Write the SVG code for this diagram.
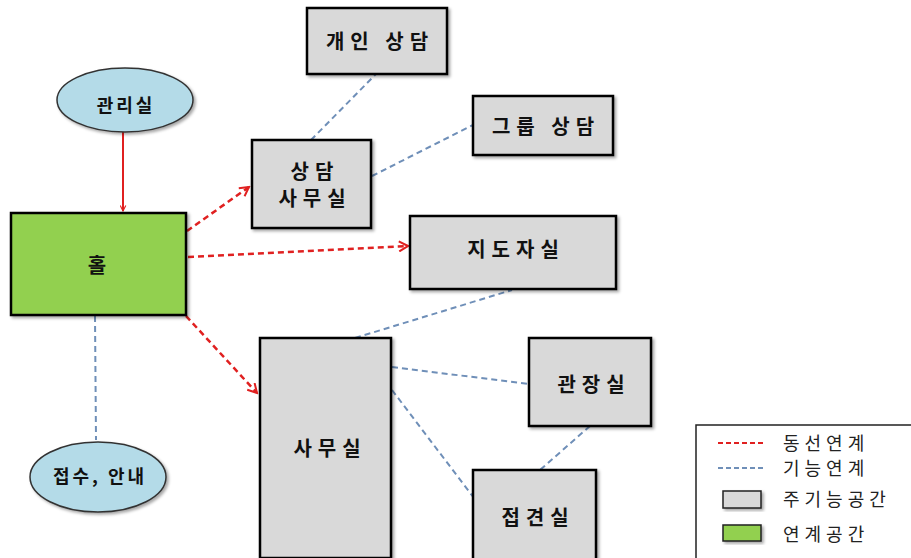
<svg xmlns="http://www.w3.org/2000/svg" width="911" height="558" viewBox="0 0 911 558">
<defs>
<filter id="sh" x="-10%" y="-10%" width="130%" height="130%"><feDropShadow dx="2" dy="2" stdDeviation="1.5" flood-color="#000" flood-opacity="0.35"/></filter>
<marker id="ar" viewBox="0 0 10 10" refX="9" refY="5" markerWidth="7" markerHeight="7" orient="auto" markerUnits="userSpaceOnUse"><path d="M1,1 L9,5 L1,9" fill="none" stroke="#e02020" stroke-width="1.6"/></marker>
<marker id="ar2" viewBox="0 0 12 12" refX="10" refY="6" markerWidth="12" markerHeight="12" orient="auto" markerUnits="userSpaceOnUse"><path d="M1,1 L10,6 L1,11" fill="none" stroke="#e02020" stroke-width="2"/></marker>
</defs>
<style>
.box{fill:#d9d9d9;stroke:#000;stroke-width:2.5;filter:url(#sh)}
.hall{fill:#92d050;stroke:#000;stroke-width:2.5;filter:url(#sh)}
.ell{fill:#b4dbe8;stroke:#333;stroke-width:1.5;filter:url(#sh)}
.t{font-family:"Noto Sans CJK KR","Noto Sans",sans-serif;font-weight:bold;font-size:20px;fill:#111;text-anchor:middle;letter-spacing:6px}
.lt{font-family:"Noto Sans CJK KR","Noto Sans",sans-serif;font-size:18px;fill:#222;letter-spacing:5px}
.red{stroke:#e02020;stroke-width:2.5;stroke-dasharray:6 4;fill:none}
.redsolid{stroke:#e02020;stroke-width:2;fill:none}
.blue{stroke:#6f8fb8;stroke-width:2;stroke-dasharray:6 4;fill:none}
</style>
<rect width="911" height="558" fill="#fff"/>
<g id="connectors">
<line class="redsolid" x1="123" y1="132" x2="123" y2="211" marker-end="url(#ar)"/>
<line class="red" x1="187" y1="231" x2="249" y2="187" marker-end="url(#ar2)"/>
<line class="red" x1="188" y1="257" x2="408" y2="246" marker-end="url(#ar2)"/>
<line class="red" x1="186" y1="316" x2="257" y2="393" marker-end="url(#ar2)"/>
<line class="blue" x1="95" y1="316" x2="96" y2="440"/>
<line class="blue" x1="311" y1="140" x2="376" y2="74"/>
<line class="blue" x1="372" y1="176" x2="473" y2="125"/>
<line class="blue" x1="355" y1="338" x2="512" y2="290"/>
<line class="blue" x1="392" y1="367" x2="529" y2="384"/>
<line class="blue" x1="392" y1="390" x2="474" y2="498"/>
<line class="blue" x1="590" y1="426" x2="540" y2="470"/>
</g>
<g id="n-gaein">
<rect class="box" x="307" y="8" width="140" height="66"/>
<text class="t" x="380" y="49">개인 상담</text>
</g>
<g id="n-gwanri">
<ellipse class="ell" cx="125" cy="100" rx="68" ry="32"/>
<text class="t" x="126" y="112" style="font-size:18px;letter-spacing:3px">관리실</text>
</g>
<g id="n-sangdam">
<rect class="box" x="252" y="140" width="119" height="88"/>
<text class="t" x="315" y="179">상담</text>
<text class="t" x="315" y="206">사무실</text>
</g>
<g id="n-group">
<rect class="box" x="473" y="96" width="140" height="59"/>
<text class="t" x="546" y="134">그룹 상담</text>
</g>
<g id="n-jidoja">
<rect class="box" x="410" y="216" width="206" height="73"/>
<text class="t" x="516" y="257">지도자실</text>
</g>
<g id="n-hall">
<rect class="hall" x="11" y="213" width="175" height="102"/>
<text class="t" x="100" y="273">홀</text>
</g>
<g id="n-samusil">
<rect class="box" x="260" y="338" width="131" height="220"/>
<text class="t" x="330" y="456">사무실</text>
</g>
<g id="n-jeopsu">
<ellipse class="ell" cx="98" cy="477" rx="68" ry="35"/>
<text class="t" x="100" y="483" style="font-size:18px;letter-spacing:3px">접수, 안내</text>
</g>
<g id="n-gwanjang">
<rect class="box" x="529" y="338" width="122" height="88"/>
<text class="t" x="594" y="392">관장실</text>
</g>
<g id="n-jeopgyeon">
<rect class="box" x="473" y="470" width="123" height="100"/>
<text class="t" x="538" y="525">접견실</text>
</g>
<g id="legend">
<rect x="696" y="425" width="220" height="140" fill="#fff" stroke="#222" stroke-width="1.5"/>
<line x1="718" y1="443" x2="765" y2="443" stroke="#e02020" stroke-width="2" stroke-dasharray="5 3"/>
<text class="lt" x="783" y="450">동선연계</text>
<line x1="718" y1="468" x2="765" y2="468" stroke="#6f8fb8" stroke-width="2" stroke-dasharray="5 3"/>
<text class="lt" x="783" y="475">기능연계</text>
<rect x="723" y="491" width="38" height="17" fill="#d9d9d9" stroke="#222" stroke-width="1.5" filter="url(#sh)"/>
<text class="lt" x="783" y="506">주기능공간</text>
<rect x="723" y="525" width="38" height="16" fill="#92d050" stroke="#222" stroke-width="1.5" filter="url(#sh)"/>
<text class="lt" x="783" y="541">연계공간</text>
</g>
</svg>
